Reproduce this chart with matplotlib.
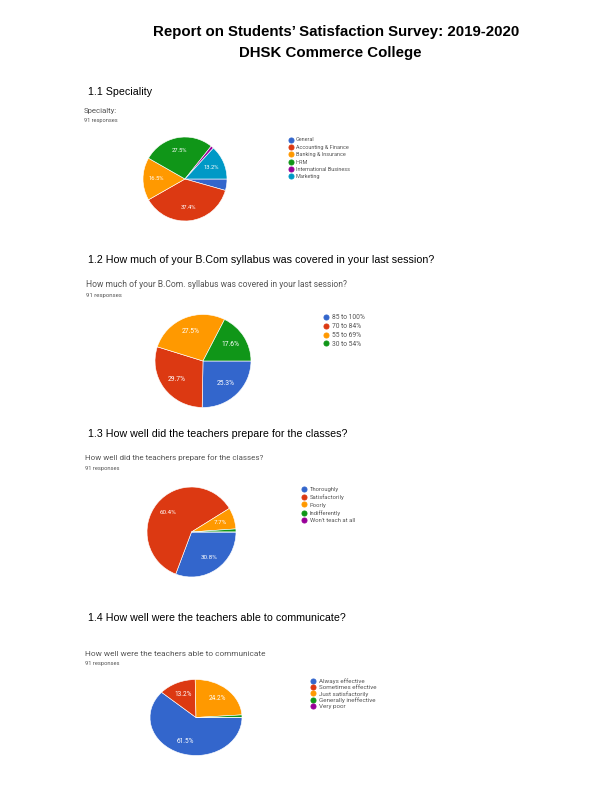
import matplotlib
matplotlib.use("Agg")
import matplotlib.pyplot as plt
from matplotlib.lines import Line2D

W, H = 612, 792

title_lines = ["Report on Students\u2019 Satisfaction Survey: 2019-2020", "DHSK Commerce College"]

headers = ["1.1 Speciality",
           "1.2 How much of your B.Com syllabus was covered in your last session?",
           "1.3 How well did the teachers prepare for the classes?",
           "1.4 How well were the teachers able to communicate?"]
subtitles = ["Specialty:",
             "How much of your B.Com. syllabus was covered in your last session?",
             "How well did the teachers prepare for the classes?",
             "How well were the teachers able to communicate"]
responses = "91 responses"

cats1 = ["General", "Accounting & Finance", "Banking & Insurance", "HRM",
         "International Business", "Marketing"]
vals1 = [4, 34, 15, 25, 1, 12]
cats2 = ["85 to 100%", "70 to 84%", "55 to 69%", "30 to 54%"]
vals2 = [23, 27, 25, 16]
cats3 = ["Thoroughly", "Satisfactorily", "Poorly", "Indifferently", "Won't teach at all"]
vals3 = [28, 55, 7, 1, 0]
cats4 = ["Always effective", "Sometimes effective", "Just satisfactorily",
         "Generally ineffective", "Very poor"]
vals4 = [56, 12, 22, 1, 0]

gcolors = ["#3366cc", "#dc3912", "#ff9900", "#109618", "#990099", "#0099c6"]

fig = plt.figure(figsize=(W / 72, H / 72), dpi=72)

# Title
fig.text(336 / W, 1 - 32 / H, title_lines[0], ha="center", va="center",
         fontsize=15, fontweight="bold", family="Liberation Sans", color="black")
fig.text(330 / W, 1 - 52.5 / H, title_lines[1], ha="center", va="center",
         fontsize=15, fontweight="bold", family="Liberation Sans", color="black")

# layout: (header_y, sub_x, sub_y, resp_y, sub_fs, resp_fs, cx, cy, rx, ry, leg_x, leg_y, leg_fs, leg_sp, pct_fs)
layout = [
    (92, 84, 111, 120.5, 7.7, 5.6, 185, 179, 42, 42, 290.7, 140.7, 5.5, 8.8, 5.9),
    (260, 86.5, 284.5, 296, 8.5, 6.0, 203, 361, 48, 46.5, 325.7, 318.3, 6.8, 9.8, 6.7),
    (434, 85, 457.5, 468.5, 8.0, 5.8, 191.5, 532, 44.5, 45, 304, 490, 5.9, 9.4, 6.2),
    (618, 85, 654, 663.5, 8.3, 5.8, 196, 717.5, 46, 38, 313.3, 682, 6.2, 8.0, 6.5),
]
datasets = [(cats1, vals1), (cats2, vals2), (cats3, vals3), (cats4, vals4)]


def make_autopct(threshold=5):
    def f(p):
        return f"{p:.1f}%" if p >= threshold else ""
    return f


for i, ((cats, vals), lay) in enumerate(zip(datasets, layout)):
    (hy, sx, sy, ry_, sfs, rfs, cx, cy, rx, ryy, lx, ly, lfs, lsp, pfs) = lay
    fig.text(88 / W, 1 - hy / H, headers[i], ha="left", va="center",
             fontsize=10.6, family="Liberation Sans", color="black")
    fig.text(sx / W, 1 - sy / H, subtitles[i], ha="left", va="center",
             fontsize=sfs, family="Roboto", color="#555555")
    fig.text(sx / W, 1 - ry_ / H, responses, ha="left", va="center",
             fontsize=rfs, family="Roboto", color="#555555")

    ax = fig.add_axes([(cx - rx) / W, 1 - (cy + ryy) / H, 2 * rx / W, 2 * ryy / H])
    cols = gcolors[:len(cats)]
    wedges, texts, autotexts = ax.pie(
        vals, colors=cols, startangle=0, counterclock=False,
        autopct=make_autopct(), pctdistance=0.68,
        wedgeprops=dict(edgecolor="white", linewidth=0.6),
        textprops=dict(color="white", fontsize=pfs, family="Roboto"))
    ax.set_xlim(-1.0, 1.0)
    ax.set_ylim(-1.0, 1.0)
    ax.set_aspect("auto")
    ax.axis("off")

    handles = [Line2D([0], [0], marker="o", linestyle="none", markersize=5.0,
                      markerfacecolor=c, markeredgecolor=c) for c in cols]
    th = lfs * 1.17
    spacing = (lsp - th) / lfs
    leg = fig.legend(handles, cats, loc="upper left",
                     bbox_to_anchor=((lx - lfs * 0.4) / W, 1 - (ly - th / 2) / H),
                     frameon=False, borderpad=0, borderaxespad=0,
                     handlelength=0.8, handletextpad=0.55, labelspacing=spacing,
                     prop=dict(family="Roboto", size=lfs))
    for t in leg.get_texts():
        t.set_color("#555555")

fig.savefig("out.png", dpi=72)
